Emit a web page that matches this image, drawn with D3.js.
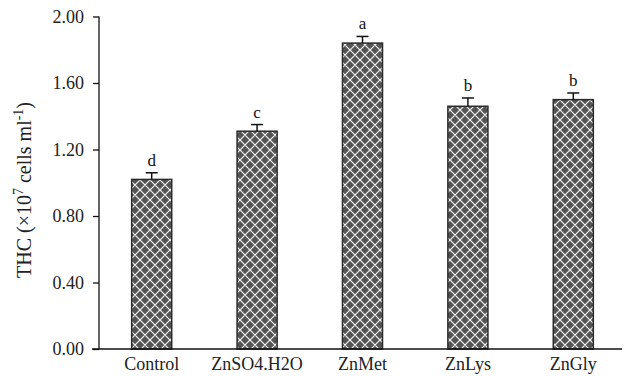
<!DOCTYPE html>
<html>
<head>
<meta charset="utf-8">
<script src="https://cdn.jsdelivr.net/npm/d3@7/dist/d3.min.js"></script>
<style>
  html, body { margin: 0; padding: 0; background: #fff; }
  svg { display: block; font-family: "Liberation Serif", "Times New Roman", serif; }
</style>
</head>
<body>
<svg id="chart" width="624" height="376"></svg>
<script>
// Treatments and total haemocyte count (THC, ×10^7 cells/ml)
const categories = ["Control", "ZnSO4.H2O", "ZnMet", "ZnLys", "ZnGly"];
const means = [1.02, 1.31, 1.84, 1.46, 1.50];
const errors = [0.04, 0.04, 0.04, 0.05, 0.04];
const letters = ["d", "c", "a", "b", "b"];
const yTicks = [0, 0.4, 0.8, 1.2, 1.6, 2.0];

const svg = d3.select("#chart");
const left = 99;
const y0 = 349, y1 = 16.5;

const x = d3.scaleBand()
  .domain(categories)
  .range([left, 626])
  .paddingInner(0.62)
  .paddingOuter(0.31);

const y = d3.scaleLinear().domain([0, 2]).range([y0, y1]);

// Crosshatch fill: white diagonal lattice on dark grey
const defs = svg.append("defs");
const pat = defs.append("pattern")
  .attr("id", "lattice")
  .attr("patternUnits", "userSpaceOnUse")
  .attr("width", 10).attr("height", 10);
pat.append("rect").attr("width", 10).attr("height", 10).attr("fill", "#545454");
pat.append("path")
  .attr("d", "M0,0L10,10M10,0L0,10M-5,5L0,10M5,-5L15,5M-5,5L5,-5M5,15L15,5")
  .attr("stroke", "#f4f4f4")
  .attr("stroke-width", 1.2)
  .attr("fill", "none");

// Bars
svg.append("g").selectAll("rect")
  .data(categories)
  .join("rect")
  .attr("x", d => x(d))
  .attr("width", x.bandwidth())
  .attr("y", (d, i) => y(means[i]))
  .attr("height", (d, i) => y(0) - y(means[i]))
  .attr("fill", "url(#lattice)")
  .attr("stroke", "#2a2a2a")
  .attr("stroke-width", 1.5);

// Error bars (upper whisker only)
const eb = svg.append("g").attr("stroke", "#111").attr("stroke-width", 1.5);
categories.forEach((c, i) => {
  const cx = x(c) + x.bandwidth() / 2;
  eb.append("line")
    .attr("x1", cx).attr("x2", cx)
    .attr("y1", y(means[i])).attr("y2", y(means[i] + errors[i]));
  eb.append("line")
    .attr("x1", cx - 6).attr("x2", cx + 6)
    .attr("y1", y(means[i] + errors[i])).attr("y2", y(means[i] + errors[i]));
});

// Significance letters
svg.append("g").selectAll("text")
  .data(categories)
  .join("text")
  .attr("x", d => x(d) + x.bandwidth() / 2)
  .attr("y", (d, i) => y(means[i] + errors[i]) - 7)
  .attr("text-anchor", "middle")
  .attr("font-size", 17)
  .attr("fill", "#111")
  .text((d, i) => letters[i]);

// Y axis
const yAxis = d3.axisLeft(y).tickValues(yTicks).tickFormat(d3.format(".2f")).tickSize(6).tickPadding(9);
const gy = svg.append("g").attr("transform", `translate(${left},0)`).call(yAxis);
gy.select(".domain").attr("d", `M0,${y1}V${y0}`).attr("stroke", "#111").attr("stroke-width", 1.3);
gy.selectAll(".tick line").attr("stroke", "#111").attr("stroke-width", 1.3);
gy.selectAll(".tick text").attr("font-size", 18).attr("fill", "#222")
  .attr("font-family", "Liberation Serif, serif");

// X axis
const xAxis = d3.axisBottom(x).tickSize(0).tickPadding(8);
const gx = svg.append("g").attr("transform", `translate(0,${y0})`).call(xAxis);
gx.select(".domain").attr("d", `M${left - 7},0H622`).attr("stroke", "#111").attr("stroke-width", 1.3);
gx.selectAll(".tick text").attr("font-size", 18).attr("fill", "#222")
  .attr("font-family", "Liberation Serif, serif");

// Y axis title
const title = svg.append("text")
  .attr("transform", "translate(31,190) rotate(-90)")
  .attr("text-anchor", "middle")
  .attr("font-size", 20)
  .attr("fill", "#222");
title.append("tspan").text("THC (×10");
title.append("tspan").attr("dy", -8).attr("font-size", 14).text("7");
title.append("tspan").attr("dy", 8).text(" cells ml");
title.append("tspan").attr("dy", -8).attr("font-size", 14).text("-1");
title.append("tspan").attr("dy", 8).text(")");
</script>
</body>
</html>
